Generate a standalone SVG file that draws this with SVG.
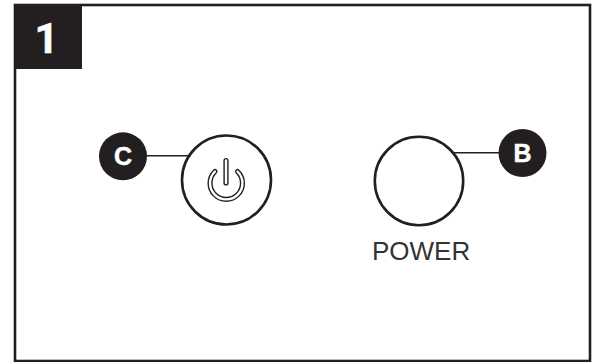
<svg xmlns="http://www.w3.org/2000/svg" width="592" height="362" viewBox="0 0 592 362">
<style>
.ln{fill:none;stroke:#231f20}
.badge{fill:#231f20}
.lbl{font-family:"Liberation Sans",Arial,sans-serif;font-weight:700;fill:#fff;stroke:#fff;stroke-width:.5;text-anchor:middle}
</style>
<rect width="592" height="362" fill="#fff"/>
<g id="frame"><rect x="15" y="5" width="575" height="356" class="ln" stroke-width="2.6"/></g>
<g id="step-1"><rect x="14" y="4" width="68" height="65" class="badge"/><text x="46.5" y="53" class="lbl" style="font-family:Roboto,'Liberation Sans',sans-serif" font-size="42">1</text></g>
<g id="connectors"><line x1="146" y1="155.7" x2="191" y2="155.7" class="ln" stroke-width="1.6"/><line x1="454" y1="152.7" x2="499" y2="152.7" class="ln" stroke-width="1.6"/></g>
<g id="standby-button"><circle cx="226.5" cy="180" r="44.5" class="ln" stroke-width="2.6" fill="#fff"/>
<path d="M215 171.5A16.2 16.2 0 1 0 237.5 171.5" fill="none" stroke="#231f20" stroke-width="5.2" stroke-linecap="round"/>
<path d="M215 171.5A16.2 16.2 0 1 0 237.5 171.5" fill="none" stroke="#fff" stroke-width="2.4" stroke-linecap="round"/>
<line x1="226" y1="160.5" x2="226" y2="183" stroke="#231f20" stroke-width="5.2" stroke-linecap="round"/>
<line x1="226" y1="160.5" x2="226" y2="183" stroke="#fff" stroke-width="2.4" stroke-linecap="round"/></g>
<g id="power-button"><circle cx="419" cy="181" r="44.2" class="ln" stroke-width="2.6"/><text x="372" y="260" font-family="'Liberation Sans',Arial,sans-serif" font-size="26" fill="#333">POWER</text></g>
<g id="callout-c"><circle cx="123" cy="156.3" r="24" class="badge"/><text x="123" y="165" class="lbl" font-size="25">C</text></g>
<g id="callout-b"><circle cx="522.5" cy="153" r="24" class="badge"/><text x="522.5" y="161.7" class="lbl" font-size="25">B</text></g>
</svg>
